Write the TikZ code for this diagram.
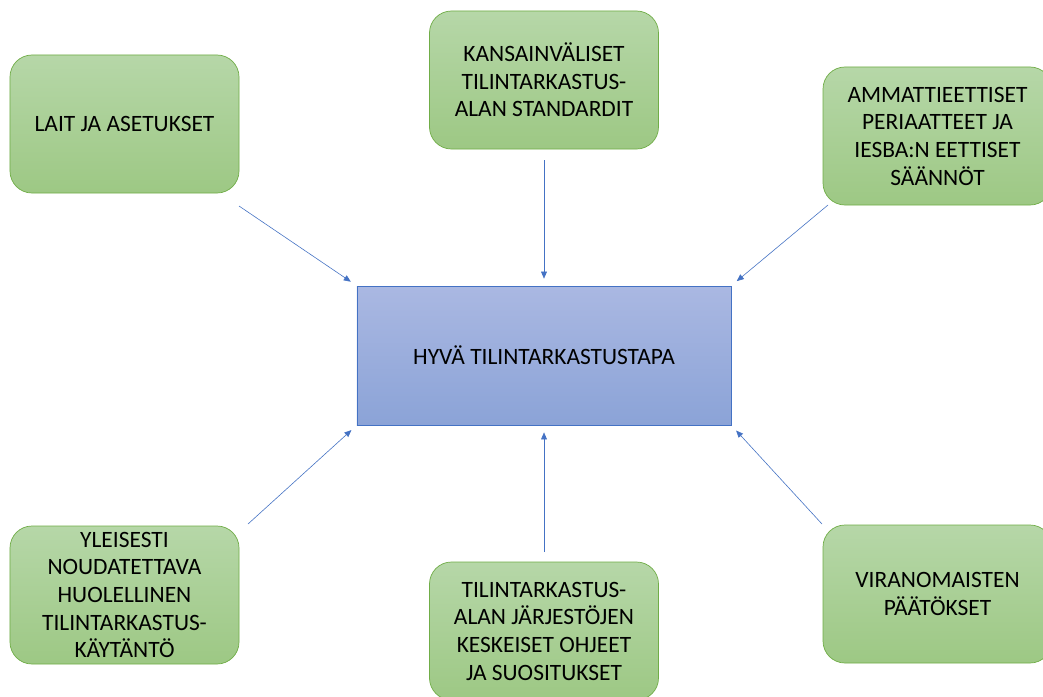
\documentclass[tikz,border=0pt]{standalone}
\usepackage{fontspec}
\setmainfont{Carlito}
\usetikzlibrary{arrows.meta}
\definecolor{gtop}{RGB}{182,215,168}
\definecolor{gbot}{RGB}{157,200,132}
\definecolor{gline}{RGB}{112,173,71}
\definecolor{btop}{RGB}{170,184,226}
\definecolor{bbot}{RGB}{139,163,215}
\definecolor{bline}{RGB}{68,114,196}
\begin{document}
\begin{tikzpicture}[x=0.03cm, y=-0.03cm,
        source/.style={shade, top color=gtop, bottom color=gbot, draw=gline, line width=0.6pt,
            rounded corners=0.66cm, minimum width=6.87cm, minimum height=4.14cm,
            inner sep=0pt, align=center, font=\fontsize{20}{23.6}\selectfont},
        target/.style={shade, top color=btop, bottom color=bbot, draw=bline, line width=0.6pt,
            minimum width=11.22cm, minimum height=4.17cm, inner sep=0pt, align=center,
            font=\fontsize{20}{23.6}\selectfont},
        arr/.style={-{Triangle[length=6pt,width=5pt]}, draw=bline, line width=0.5pt, shorten >=6pt}]
        \useasboundingbox (0,0) rectangle (1043,696);
        \clip (0,0) rectangle (1043,696);
        \fill[white] (0,0) rectangle (1043,696);

        \node[target] (hyva) at (544,355.5) {HYVÄ TILINTARKASTUSTAPA};

        \node[source] (lait) at (124.5,124) {LAIT JA ASETUKSET};
        \node[source] (isa) at (544,80) {KANSAINVÄLISET\\TILINTARKASTUS-\\ALAN STANDARDIT};
        \node[source] (etiikka) at (937.5,136) {AMMATTIEETTISET\\PERIAATTEET JA\\IESBA:N EETTISET\\SÄÄNNÖT};
        \node[source] (kaytanto) at (124.5,595) {YLEISESTI\\NOUDATETTAVA\\HUOLELLINEN\\TILINTARKASTUS-\\KÄYTÄNTÖ};
        \node[source] (ohjeet) at (544,631) {TILINTARKASTUS-\\ALAN JÄRJESTÖJEN\\KESKEISET OHJEET\\JA SUOSITUKSET};
        \node[source] (viranom) at (937.5,594) {VIRANOMAISTEN\\PÄÄTÖKSET};

        \coordinate (s1) at (239,206);
        \coordinate (s2) at (544,160);
        \coordinate (s3) at (828,205);
        \coordinate (s4) at (248,524);
        \coordinate (s5) at (544,552);
        \coordinate (s6) at (822,524);

        \draw[arr] (s1) -- (hyva.north west);
        \draw[arr] (s2) -- (hyva.north);
        \draw[arr] (s3) -- (hyva.north east);
        \draw[arr] (s4) -- (hyva.south west);
        \draw[arr] (s5) -- (hyva.south);
        \draw[arr] (s6) -- (hyva.south east);
    \end{tikzpicture}
\end{document}
